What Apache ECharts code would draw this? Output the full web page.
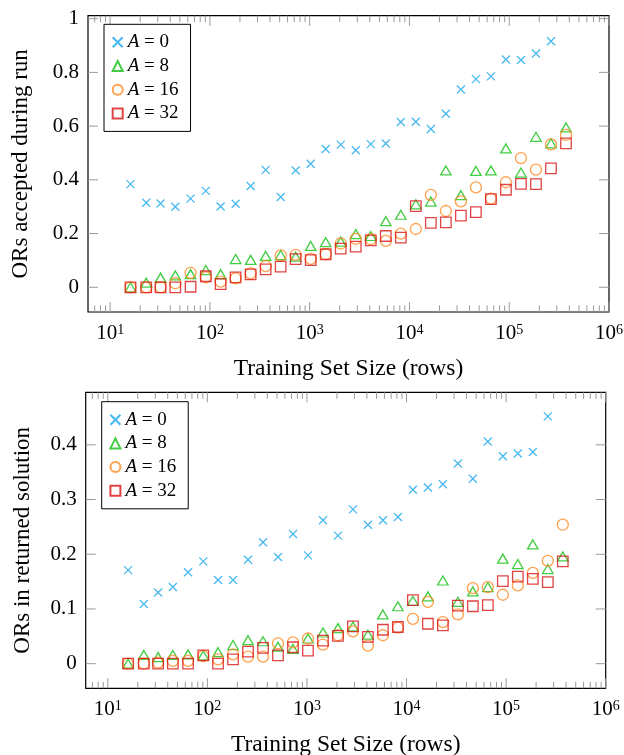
<!DOCTYPE html>
<html><head><meta charset="utf-8">
<script src="https://cdn.jsdelivr.net/npm/echarts@6/dist/echarts.min.js"></script>
<style>html,body{margin:0;padding:0;background:#fff}#c{width:624px;height:755px}</style>
</head><body><div id="c"></div>
<script>
const sizes = [16, 23, 32, 45, 64, 91, 128, 181, 256, 362, 512, 724, 1024, 1448, 2048, 2896, 4096, 5793, 8192, 11585, 16384, 23170, 32768, 46341, 65536, 92682, 131072, 185364, 262144, 370728];
const seriesNames = ['A = 0', 'A = 8', 'A = 16', 'A = 32'];
// Top: ORs accepted during run
const topA0 = [0.384,0.315,0.312,0.300,0.330,0.359,0.301,0.311,0.377,0.437,0.336,0.435,0.460,0.515,0.531,0.510,0.533,0.535,0.615,0.616,0.589,0.646,0.736,0.775,0.785,0.848,0.846,0.870,0.916];
const topA8 = [0.000,0.017,0.036,0.044,0.049,0.064,0.049,0.105,0.102,0.117,0.120,0.114,0.154,0.168,0.170,0.198,0.191,0.246,0.270,0.309,0.319,0.435,0.343,0.433,0.435,0.517,0.427,0.560,0.536,0.595];
const topA16 = [0.000,0.000,0.000,0.015,0.054,0.037,0.021,0.033,0.052,0.079,0.119,0.121,0.106,0.123,0.163,0.180,0.179,0.173,0.200,0.217,0.344,0.284,0.320,0.372,0.330,0.391,0.481,0.438,0.532,0.567];
const topA32 = [0,0,0,0,0.002,0.041,0.012,0.037,0.048,0.067,0.077,0.105,0.101,0.123,0.144,0.151,0.175,0.191,0.185,0.302,0.240,0.242,0.267,0.280,0.328,0.363,0.385,0.384,0.443,0.536];
// Bottom: ORs in returned solution
const botA0 = [0.171,0.109,0.130,0.140,0.167,0.187,0.153,0.153,0.190,0.222,0.195,0.237,0.198,0.262,0.234,0.282,0.254,0.262,0.268,0.318,0.322,0.328,0.366,0.338,0.406,0.379,0.384,0.387,0.452];
const botA8 = [0.000,0.016,0.012,0.016,0.017,0.015,0.021,0.034,0.043,0.041,0.031,0.027,0.046,0.057,0.065,0.068,0.053,0.090,0.105,0.115,0.123,0.152,0.113,0.132,0.140,0.192,0.182,0.218,0.173,0.196];
const botA16 = [0,0,0.002,0.005,0.005,0.014,0.008,0.017,0.013,0.013,0.037,0.039,0.046,0.035,0.052,0.059,0.033,0.052,0.066,0.082,0.113,0.076,0.090,0.138,0.140,0.126,0.143,0.166,0.188,0.254];
const botA32 = [0,0,0,0,0,0.015,0,0.008,0.022,0.029,0.015,0.030,0.024,0.042,0.051,0.068,0.049,0.062,0.067,0.116,0.073,0.070,0.106,0.105,0.107,0.151,0.159,0.155,0.149,0.187];

const xMajorTicks = [10, 100, 1000, 10000, 100000, 1000000];
const yTopTicks = [0, 0.2, 0.4, 0.6, 0.8, 1];
const yBotTicks = [0, 0.1, 0.2, 0.3, 0.4];
const xTitle = 'Training Set Size (rows)';
const yTopTitle = 'ORs accepted during run';
const yBotTitle = 'ORs in returned solution';

const X_MIN = 6, X_MAX = 1e6;
const xMinorTicks = [];
for (let p = 0; p < 6; p++) for (let k = 2; k <= 9; k++) { const v = k * Math.pow(10, p); if (v > X_MIN && v < X_MAX) xMinorTicks.push(v); }

const FONT = 'Liberation Serif';
const TICKC = '#9a9a9a';
const colors = ['#1aa7ec', '#14c014', '#ff8a20', '#d81414'];
const symbols = ['path://M0,0L10,10M0,10L10,0', 'triangle', 'circle', 'rect'];
const symSizes = [8, [10.5, 9], 11, 10.5];

function xAxis(g) {
  return {
    type: 'log', logBase: 10, min: X_MIN, max: X_MAX, gridIndex: g, position: 'bottom',
    splitLine: { show: false }, axisLine: { show: false, onZero: false }, axisTick: { show: false },
    axisLabel: { show: true, customValues: xMajorTicks, margin: 11, fontFamily: FONT, fontSize: 21, color: '#000',
      formatter: v => '10{sup|' + Math.round(Math.log10(v)) + '}',
      rich: { sup: { fontSize: 14, fontFamily: FONT, color: '#000', verticalAlign: 'top' } } },
    name: xTitle, nameLocation: 'middle', nameGap: 45,
    nameTextStyle: { fontFamily: FONT, fontSize: 23.5, color: '#000' }
  };
}
function yAxis(g, min, max, ticks, title, gap) {
  return {
    type: 'value', min: min, max: max, gridIndex: g, position: 'left',
    splitLine: { show: false }, axisLine: { show: false, onZero: false }, axisTick: { show: false },
    axisLabel: { show: true, customValues: ticks, margin: 9, fontFamily: FONT, fontSize: 21, color: '#000',
      formatter: v => String(Math.round(v * 10) / 10) },
    name: title, nameLocation: 'middle', nameGap: gap, nameRotate: 90,
    nameTextStyle: { fontFamily: FONT, fontSize: 23, color: '#000' }
  };
}
// frame ticks (inward, on all four sides), positioned through the axes' own scales
function xTickSeries(g, values, len, yMin, yMax) {
  return {
    type: 'custom', xAxisIndex: g, yAxisIndex: g, silent: true, clip: false, z: 1,
    data: values.map(v => [v]),
    renderItem: function (params, api) {
      const b = api.coord([api.value(0), yMin]);
      const t = api.coord([api.value(0), yMax]);
      const st = { stroke: TICKC, lineWidth: 1 };
      return { type: 'group', children: [
        { type: 'line', shape: { x1: b[0], y1: b[1], x2: b[0], y2: b[1] - len }, style: st },
        { type: 'line', shape: { x1: t[0], y1: t[1], x2: t[0], y2: t[1] + len }, style: st }
      ] };
    }
  };
}
function yTickSeries(g, values, len) {
  return {
    type: 'custom', xAxisIndex: g, yAxisIndex: g, silent: true, clip: false, z: 1,
    data: values.map(v => [X_MIN, v]),
    renderItem: function (params, api) {
      const l = api.coord([X_MIN, api.value(1)]);
      const r = api.coord([X_MAX, api.value(1)]);
      const st = { stroke: TICKC, lineWidth: 1 };
      return { type: 'group', children: [
        { type: 'line', shape: { x1: l[0], y1: l[1], x2: l[0] + len, y2: l[1] }, style: st },
        { type: 'line', shape: { x1: r[0], y1: r[1], x2: r[0] - len, y2: r[1] }, style: st }
      ] };
    }
  };
}
function mkSeries(g, arrs) {
  return arrs.map((vals, i) => ({
    type: 'scatter', name: seriesNames[i], xAxisIndex: g, yAxisIndex: g,
    symbol: symbols[i], symbolSize: symSizes[i], z: 3,
    itemStyle: { color: 'rgba(0,0,0,0)', borderColor: colors[i], borderWidth: 1.3 },
    emphasis: { disabled: true },
    data: vals.map((v, j) => [sizes[j], v])
  }));
}
function mkLegend(left, top) {
  return {
    orient: 'vertical', left: left, top: top, data: seriesNames,
    itemWidth: 10, itemHeight: 10, itemGap: 3.7,
    padding: [8, 12, 8, 7.7],
    borderColor: '#000', borderWidth: 1, borderRadius: 0, backgroundColor: '#fff',
    selectedMode: false,
    formatter: n => '{i|A} = ' + n.split('= ')[1],
    textStyle: { fontFamily: FONT, fontSize: 19, lineHeight: 20, color: '#000',
      rich: { i: { fontStyle: 'italic', fontFamily: FONT, fontSize: 19, lineHeight: 20, color: '#000' } } }
  };
}

const chart = echarts.init(document.getElementById('c'), null, { renderer: 'canvas' });
chart.setOption({
  animation: false,
  backgroundColor: '#fff',
  grid: [
    { left: 88, top: 15.7, width: 521, height: 296.3, show: true, borderColor: '#000', borderWidth: 1.2, backgroundColor: 'transparent', outerBoundsMode: 'none', containLabel: false },
    { left: 85.7, top: 392.3, width: 520, height: 296, show: true, borderColor: '#000', borderWidth: 1.2, backgroundColor: 'transparent', outerBoundsMode: 'none', containLabel: false }
  ],
  xAxis: [xAxis(0), xAxis(1)],
  yAxis: [yAxis(0, -0.092, 1.011, yTopTicks, yTopTitle, 56), yAxis(1, -0.045, 0.496, yBotTicks, yBotTitle, 51)],
  legend: [mkLegend(104, 24.3), mkLegend(101.7, 401.7)],
  series: [
    xTickSeries(0, xMinorTicks, 6.5, -0.092, 1.011), xTickSeries(0, xMajorTicks, 10, -0.092, 1.011), yTickSeries(0, yTopTicks, 10),
    xTickSeries(1, xMinorTicks, 6.5, -0.045, 0.496), xTickSeries(1, xMajorTicks, 10, -0.045, 0.496), yTickSeries(1, yBotTicks, 10)
  ]
    .concat(mkSeries(0, [topA0, topA8, topA16, topA32]))
    .concat(mkSeries(1, [botA0, botA8, botA16, botA32]))
});
</script></body></html>
